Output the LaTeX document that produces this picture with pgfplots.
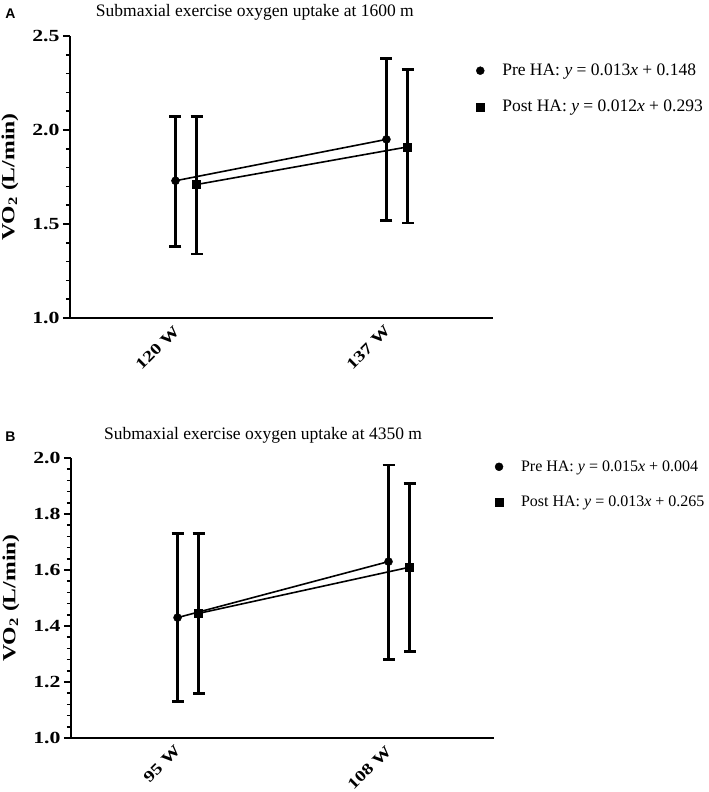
\documentclass[border=0pt]{standalone}
\usepackage{pgfplots}
\pgfplotsset{compat=1.18}
\usepackage{fontspec}
\setmainfont{Liberation Serif}
\newfontfamily\arialfont{Liberation Sans}
\newfontfamily\bst[FakeStretch=1.28]{Liberation Serif}

\pgfplotstableread{
x y ep em
0.95 1.73 0.34 0.35
1.95 1.95 0.43 0.43
}\preA
\pgfplotstableread{
x y ep em
1.05 1.71 0.36 0.37
2.05 1.91 0.41 0.405
}\postA
\pgfplotstableread{
x y ep em
0.955 1.43 0.30 0.30
1.955 1.63 0.345 0.35
}\preB
\pgfplotstableread{
x y ep em
1.055 1.445 0.285 0.285
2.055 1.61 0.30 0.30
}\postB

\pgfplotsset{
  panel/.style={
    scale only axis, width=423pt,
    axis lines=left,
    axis line style={line width=2pt, -},
    xmin=0.45, xmax=2.455,
    xtick={1,2},
    major x tick style={draw=none},
    xticklabel style={xshift=-13pt, yshift=2pt, rotate=45, anchor=north east, font=\bst\fontsize{15.5}{18}\selectfont\bfseries, inner sep=1pt},
    yticklabel style={font=\bst\fontsize{17}{19}\selectfont\bfseries,
      /pgf/number format/fixed, /pgf/number format/fixed zerofill, /pgf/number format/precision=1},
    /pgf/number format/assume math mode=true,
    tick align=outside,
    major tick length=7pt, minor tick length=4pt,
    y tick style={line width=1.6pt, black},
    minor y tick num=4,
    ylabel style={at={(axis description cs:-0.142,0.5)}, anchor=center, font=\bst\fontsize{18.5}{21}\selectfont\bfseries},
    ylabel={VO\textsubscript{2} (L/min)},
    title style={anchor=base, inner sep=0pt, font=\fontsize{17.5}{20}\selectfont},
    legend style={draw=none, fill=none, inner sep=0pt, row sep=23pt,
      anchor=north west, nodes={inner sep=0pt}},
    legend cell align=left,
    legend image code/.code={\draw[#1] plot coordinates {(4pt,0pt)}; \path[draw=none, fill=none] (0pt,0pt) -- (26pt,0pt);},
    clip=false,
  },
  ser/.style={black, line width=1.6pt, forget plot,
    mark options={fill=black, line width=0.5pt},
    error bars/y dir=both, error bars/y explicit,
    error bars/error bar style={line width=2.8pt, black},
    error bars/error mark options={rotate=90, line width=2.8pt, mark size=6pt, black}},
}

\begin{document}
\begin{tikzpicture}
\path[use as bounding box] (0pt,0pt) rectangle (709pt,792pt);
\begin{axis}[panel, at={(70pt,474pt)}, anchor=south west, height=282pt,
  ymin=1.0, ymax=2.5, ytick={1.0,1.5,2.0,2.5},
  xticklabels={120 W,137 W},
  title={Submaxial exercise oxygen uptake at 1600 m},
  title style={at={(axis description cs:0.437,1)}, yshift=13pt},
  legend style={at={(axis description cs:0.960,0.901)}, font=\fontsize{17.5}{20}\selectfont},
]
\addplot[ser, mark=*, mark size=4pt] table[x=x, y=y, y error plus=ep, y error minus=em] {\preA};
\addplot[ser, mark=square*, mark size=4pt] table[x=x, y=y, y error plus=ep, y error minus=em] {\postA};
\addlegendimage{only marks, mark=*, mark size=4pt, black}
\addlegendentry{Pre HA: \textit{y} = 0.013\textit{x} + 0.148}
\addlegendimage{only marks, mark=square*, mark size=4pt, black}
\addlegendentry{Post HA: \textit{y} = 0.012\textit{x} + 0.293}
\end{axis}
\begin{axis}[panel, at={(71pt,54pt)}, anchor=south west, height=280pt,
  ymin=1.0, ymax=2.0, ytick={1.0,1.2,1.4,1.6,1.8,2.0},
  xticklabels={95 W,108 W},
  title={Submaxial exercise oxygen uptake at 4350 m},
  title style={at={(axis description cs:0.454,1)}, yshift=12pt},
  legend style={at={(axis description cs:1.002,0.991)}, font=\fontsize{16}{18}\selectfont},
]
\addplot[ser, mark=*, mark size=4pt] table[x=x, y=y, y error plus=ep, y error minus=em] {\preB};
\addplot[ser, mark=square*, mark size=4pt] table[x=x, y=y, y error plus=ep, y error minus=em] {\postB};
\addlegendimage{only marks, mark=*, mark size=4pt, black}
\addlegendentry{Pre HA: \textit{y} = 0.015\textit{x} + 0.004}
\addlegendimage{only marks, mark=square*, mark size=4pt, black}
\addlegendentry{Post HA: \textit{y} = 0.013\textit{x} + 0.265}
\end{axis}
\node[font=\arialfont\bfseries\fontsize{14}{16}\selectfont] at (10.5pt,778.5pt) {A};
\node[font=\arialfont\bfseries\fontsize{14}{16}\selectfont] at (10.5pt,355pt) {B};
\end{tikzpicture}
\end{document}
